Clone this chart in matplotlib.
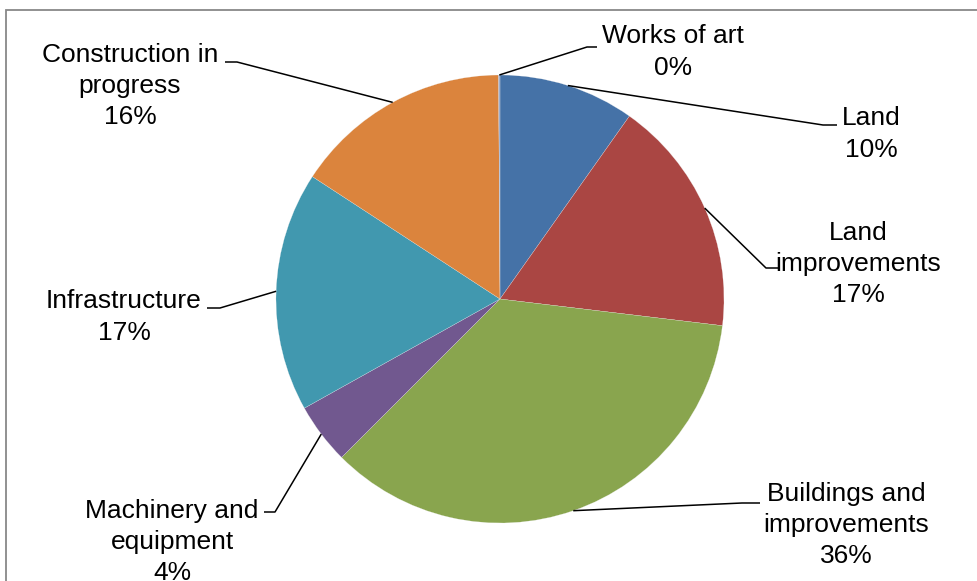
import numpy as np
import matplotlib.pyplot as plt
from matplotlib.patches import Rectangle

plt.rcParams['font.family'] = ['Liberation Sans', 'DejaVu Sans']

# data (percent of total), clockwise from 12 o'clock
labels = ['Land', 'Land\nimprovements', 'Buildings and\nimprovements',
          'Machinery and\nequipment', 'Infrastructure',
          'Construction in\nprogress', 'Works of art']
values = [9.8, 17.1, 35.6, 4.4, 17.3, 15.7, 0.1]
colors = ['#4572A7', '#AA4643', '#89A54E', '#71588F', '#4198AF', '#DB843D', '#93A9CF']

# layout in pixels (x, y from top): text centre, elbow, end of horizontal tick
text_pos = [(871, 134), (858, 264), (846, 525), (172, 542), (124, 317), (130, 86), (673, 52)]
elbow_pos = [(823, 125), (766, 268), (742, 503), (275, 512), (220, 308), (237, 62), (587, 47)]
tick_end = [(837, 125), (778, 268), (760, 503), (264, 512), (207, 308), (225, 62), (597, 47)]

W, H = 977, 581
cx, cy, r = 500, 299, 224

fig = plt.figure(figsize=(W / 100, H / 100), dpi=100)
ax = fig.add_axes([0, 0, 1, 1])

wedges, _ = ax.pie(values, colors=colors, startangle=90, counterclock=False,
                   center=(cx, H - cy), radius=r,
                   wedgeprops=dict(edgecolor='#f0f0f0', linewidth=0.15))
ax.set_xlim(0, W)
ax.set_ylim(0, H)
ax.set_aspect('equal')
ax.axis('off')

total = sum(values)
for i, w in enumerate(wedges):
    mid = np.deg2rad((w.theta1 + w.theta2) / 2)
    sx = cx + r * np.cos(mid)
    sy = (H - cy) + r * np.sin(mid)
    ex, ey = elbow_pos[i]
    tx, ty = tick_end[i]
    ax.plot([sx, ex, tx], [sy, H - ey, H - ty], color='black', lw=1.1,
            solid_capstyle='butt')
    pct = round(values[i] / total * 100)
    px, py = text_pos[i]
    ax.text(px, H - py, '%s\n%d%%' % (labels[i], pct), ha='center', va='center',
            multialignment='center', fontsize=19, linespacing=1.38)

# chart area border (cut off on the right and bottom)
ax.add_patch(Rectangle((6, -20), 1000, H - 10 + 20, fill=False,
                       edgecolor='#888888', lw=1.3))

fig.savefig('out.png', dpi=100)
